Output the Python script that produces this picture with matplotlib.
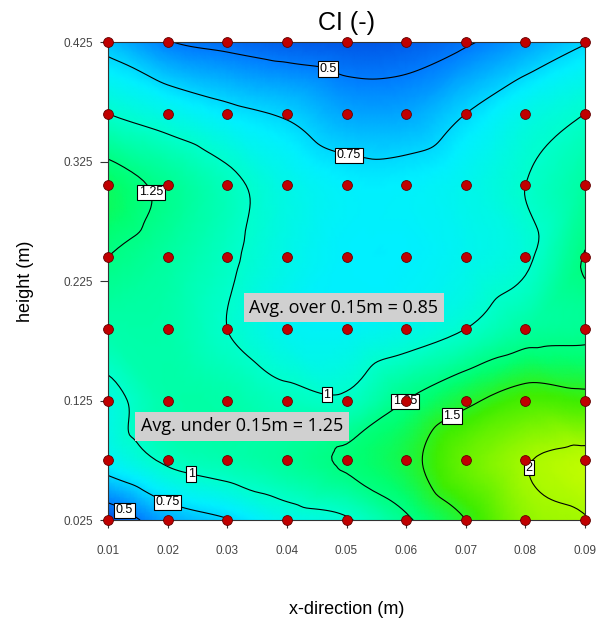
import numpy as np
import matplotlib
matplotlib.use("Agg")
import matplotlib.pyplot as plt
import matplotlib.tri as mtri
from matplotlib.colors import LinearSegmentedColormap

# measurement grid
x_pos = [0.01, 0.02, 0.03, 0.04, 0.05, 0.06, 0.07, 0.08, 0.09]
y_pos = [0.025, 0.075, 0.125, 0.185, 0.245, 0.305, 0.365, 0.425]

# CI values, one row per height (bottom to top)
ci_025 = [0.35, 0.62, 0.74, 0.90, 0.98, 1.22, 1.50, 1.90, 1.99]
ci_075 = [0.85, 1.03, 1.10, 1.17, 1.28, 1.42, 1.75, 1.98, 2.08]
ci_125 = [0.93, 1.12, 1.12, 1.05, 1.03, 1.25, 1.45, 1.62, 1.58]
ci_185 = [1.12, 1.12, 1.00, 0.87, 0.85, 0.90, 1.00, 1.15, 1.20]
ci_245 = [1.25, 1.15, 1.03, 0.90, 0.82, 0.82, 0.88, 0.97, 1.26]
ci_305 = [1.35, 1.20, 1.05, 0.90, 0.82, 0.82, 0.88, 1.00, 1.15]
ci_365 = [1.00, 0.90, 0.80, 0.73, 0.62, 0.62, 0.75, 0.90, 1.00]
ci_425 = [0.68, 0.51, 0.45, 0.40, 0.38, 0.40, 0.48, 0.60, 0.74]

levels = [0.5, 0.75, 1.0, 1.25, 1.5, 2.0]
x_ticks = [0.01, 0.02, 0.03, 0.04, 0.05, 0.06, 0.07, 0.08, 0.09]
y_ticks = [0.025, 0.125, 0.225, 0.325, 0.425]

Z = np.array([ci_025, ci_075, ci_125, ci_185, ci_245, ci_305, ci_365, ci_425])
X, Y = np.meshgrid(x_pos, y_pos)

triang = mtri.Triangulation(X.ravel(), Y.ravel())
refiner = mtri.UniformTriRefiner(triang)
interp = mtri.CubicTriInterpolator(triang, Z.ravel(), kind="geom")
tri_f, z_f = refiner.refine_field(Z.ravel(), triinterpolator=interp, subdiv=4)

cmap = LinearSegmentedColormap.from_list("ci", [
    (0.0, (0.0, 0.25, 0.85)),
    (0.11, (0.0, 0.50, 1.0)),
    (0.27, (0.0, 0.94, 1.0)),
    (0.37, (0.0, 1.0, 0.80)),
    (0.53, (0.0, 1.0, 0.45)),
    (0.68, (0.25, 0.93, 0.0)),
    (1.0, (0.85, 1.0, 0.0)),
])

plt.rcParams["font.family"] = ["Liberation Sans", "DejaVu Sans"]

fig = plt.figure(figsize=(5.98, 6.26), dpi=100)
ax = fig.add_axes([0.1806, 0.1693, 0.7977, 0.7636])

ax.tripcolor(tri_f, z_f, cmap=cmap, vmin=0.3, vmax=2.2, shading="gouraud")
cs = ax.tricontour(tri_f, z_f, levels=levels, colors="black", linewidths=0.8)

label_pos = [(0.0469, 0.403), (0.0509, 0.341), (0.0472, 0.145), (0.0601, 0.122),
             (0.0679, 0.110), (0.0786, 0.070), (0.0159, 0.297), (0.0128, 0.0335),
             (0.0200, 0.040), (0.0238, 0.060)]
labels = ax.clabel(cs, fmt=lambda v: f"{v:g}", fontsize=9, inline=False,
                   manual=label_pos)
for t in labels:
    t.set_rotation(0)
    t.set_bbox(dict(facecolor="white", edgecolor="black", pad=1.2, linewidth=0.8))

ax.scatter(X.ravel(), Y.ravel(), s=50, color="#c00000", edgecolors="#600000",
           linewidths=0.6, zorder=5, clip_on=False)

ax.set_xlim(0.01, 0.09)
ax.set_ylim(0.025, 0.425)
ax.set_xticks(x_ticks)
ax.set_xticklabels([f"{v:.2f}" for v in x_ticks])
ax.set_yticks(y_ticks)
ax.set_yticklabels([f"{v:.3f}" for v in y_ticks])
ax.tick_params(direction="out", length=6, width=0.8, labelsize=8.5, colors="#333333",
               labelcolor="#444444")
ax.tick_params(axis="x", pad=12)
ax.tick_params(axis="y", pad=5)
for s in ax.spines.values():
    s.set_linewidth(0.8)
    s.set_color("#333333")

ax.set_title("CI (-)", fontsize=18, pad=9, x=0.5)
ax.set_xlabel("x-direction (m)", fontsize=13, labelpad=32)
ax.set_ylabel("height (m)", fontsize=13, labelpad=21)

box = dict(facecolor="#d0d0d0", edgecolor="none", pad=4)
ax.text(0.0337, 0.2025, "Avg. over 0.15m = 0.85", fontsize=13, family="Open Sans",
        va="center", bbox=box, zorder=6)
ax.text(0.0155, 0.1035, "Avg. under 0.15m = 1.25", fontsize=13, family="Open Sans",
        va="center", bbox=box, zorder=6)

fig.savefig("out.png", dpi=100)
